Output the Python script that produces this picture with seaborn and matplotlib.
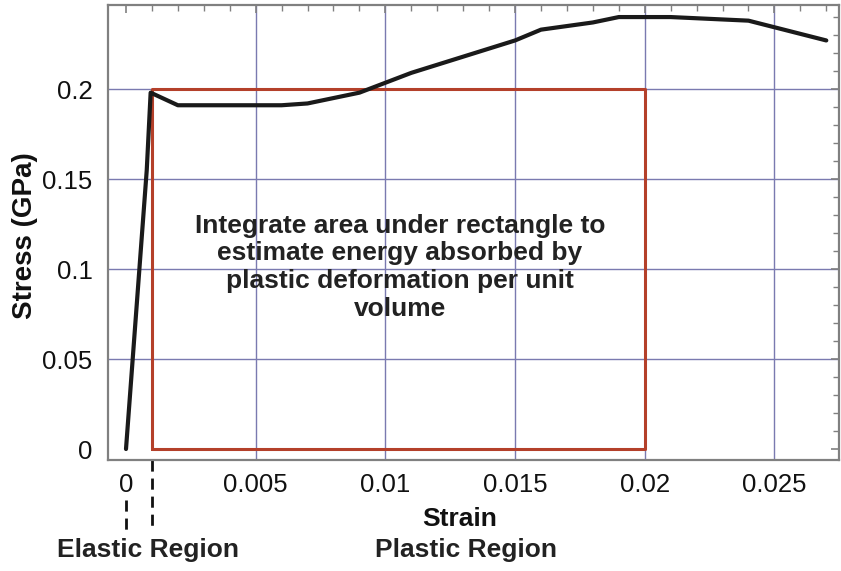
import matplotlib
matplotlib.use('Agg')
import matplotlib.pyplot as plt
import matplotlib.transforms as mtransforms
from matplotlib.ticker import MultipleLocator
import pandas as pd
import seaborn as sns

# stress-strain curve (strain, GPa)
strain = [0.0, 0.0008, 0.00095, 0.002, 0.006, 0.007, 0.009, 0.011, 0.013,
          0.015, 0.016, 0.018, 0.019, 0.021, 0.024, 0.027]
stress = [0.0, 0.155, 0.198, 0.191, 0.191, 0.192, 0.198, 0.209, 0.218,
          0.227, 0.233, 0.237, 0.240, 0.240, 0.238, 0.227]

# rectangle used for the energy estimate
rect_strain = [0.001, 0.02, 0.02, 0.001, 0.001]
rect_stress = [0.0, 0.0, 0.2, 0.2, 0.0]

# dashed markers under the axis
region_marks = [0.0, 0.001]

xticks = [0, 0.005, 0.01, 0.015, 0.02, 0.025]
xtick_labels = ['0', '0.005', '0.01', '0.015', '0.02', '0.025']
yticks = [0, 0.05, 0.1, 0.15, 0.2]
ytick_labels = ['0', '0.05', '0.1', '0.15', '0.2']

sns.set_style('white')
plt.rcParams['font.family'] = ['Liberation Sans', 'DejaVu Sans']

df = pd.DataFrame({'strain': strain, 'stress': stress})
rect = pd.DataFrame({'strain': rect_strain, 'stress': rect_stress})

fig = plt.figure(figsize=(8.41, 5.71), dpi=100)
ax = fig.add_axes([108 / 841, 1 - 460 / 571, 731 / 841, 455 / 571])

# grid at the major ticks only
for x in xticks[1:]:
    ax.axvline(x, color='#7a7ab0', lw=1, zorder=0)
for y in yticks[1:]:
    ax.axhline(y, color='#7a7ab0', lw=1, zorder=0)

sns.lineplot(data=rect, x='strain', y='stress', sort=False, estimator=None,
             color='#b4402a', lw=2.2, ax=ax, zorder=2)
sns.lineplot(data=df, x='strain', y='stress', sort=False, estimator=None,
             color='#1a1a1a', lw=3, ax=ax, zorder=3)

ax.set_xlim(-0.000694, 0.02749)
ax.set_ylim(-0.0061, 0.2467)
ax.set_xticks(xticks)
ax.set_xticklabels(xtick_labels)
ax.set_yticks(yticks)
ax.set_yticklabels(ytick_labels)
ax.xaxis.set_minor_locator(MultipleLocator(0.001))
ax.yaxis.set_minor_locator(MultipleLocator(0.01))
ax.tick_params(which='both', direction='in', top=True, right=True,
               color='#808080', labelsize=18.5, labelcolor='#111111')
ax.tick_params(axis='x', which='major', pad=9)
ax.tick_params(axis='y', which='major', pad=11)
ax.tick_params(which='major', length=6, width=1.2)
ax.tick_params(which='minor', length=4, width=1)
for s in ax.spines.values():
    s.set_color('#808080')
    s.set_linewidth(1.6)

ax.set_xlabel('Strain', fontsize=19, fontweight='bold', color='#111111')
ax.xaxis.set_label_coords((460 - 108) / 731, -(526 - 460) / 455)
ax.xaxis.label.set_va('baseline')
ax.set_ylabel('Stress (GPa)', fontsize=20, fontweight='bold', color='#111111')
ax.yaxis.set_label_coords(-(108 - 38) / 731, (460 - 236) / 455)

ax.text(0.01056, 0.101,
        'Integrate area under rectangle to\nestimate energy absorbed by\n'
        'plastic deformation per unit\nvolume',
        ha='center', va='center', fontsize=19, fontweight='bold',
        color='#222222', linespacing=1.2)

# dashed lines below the frame
trans = mtransforms.blended_transform_factory(ax.transData, ax.transAxes)
ax.plot([region_marks[0], region_marks[0]], [-(500 - 460) / 455, -(532 - 460) / 455],
        ls=(0, (4, 2.5)), color='#111111', lw=2, transform=trans, clip_on=False)
ax.plot([region_marks[1], region_marks[1]], [0.0, -(531 - 460) / 455],
        ls=(0, (4, 2.5)), color='#111111', lw=2, transform=trans, clip_on=False)

fig.text(148 / 841, 1 - 550 / 571, 'Elastic Region', ha='center', va='center',
         fontsize=19, fontweight='bold', color='#222222')
fig.text(466 / 841, 1 - 550 / 571, 'Plastic Region', ha='center', va='center',
         fontsize=19, fontweight='bold', color='#222222')

fig.savefig('out.png', dpi=100)
